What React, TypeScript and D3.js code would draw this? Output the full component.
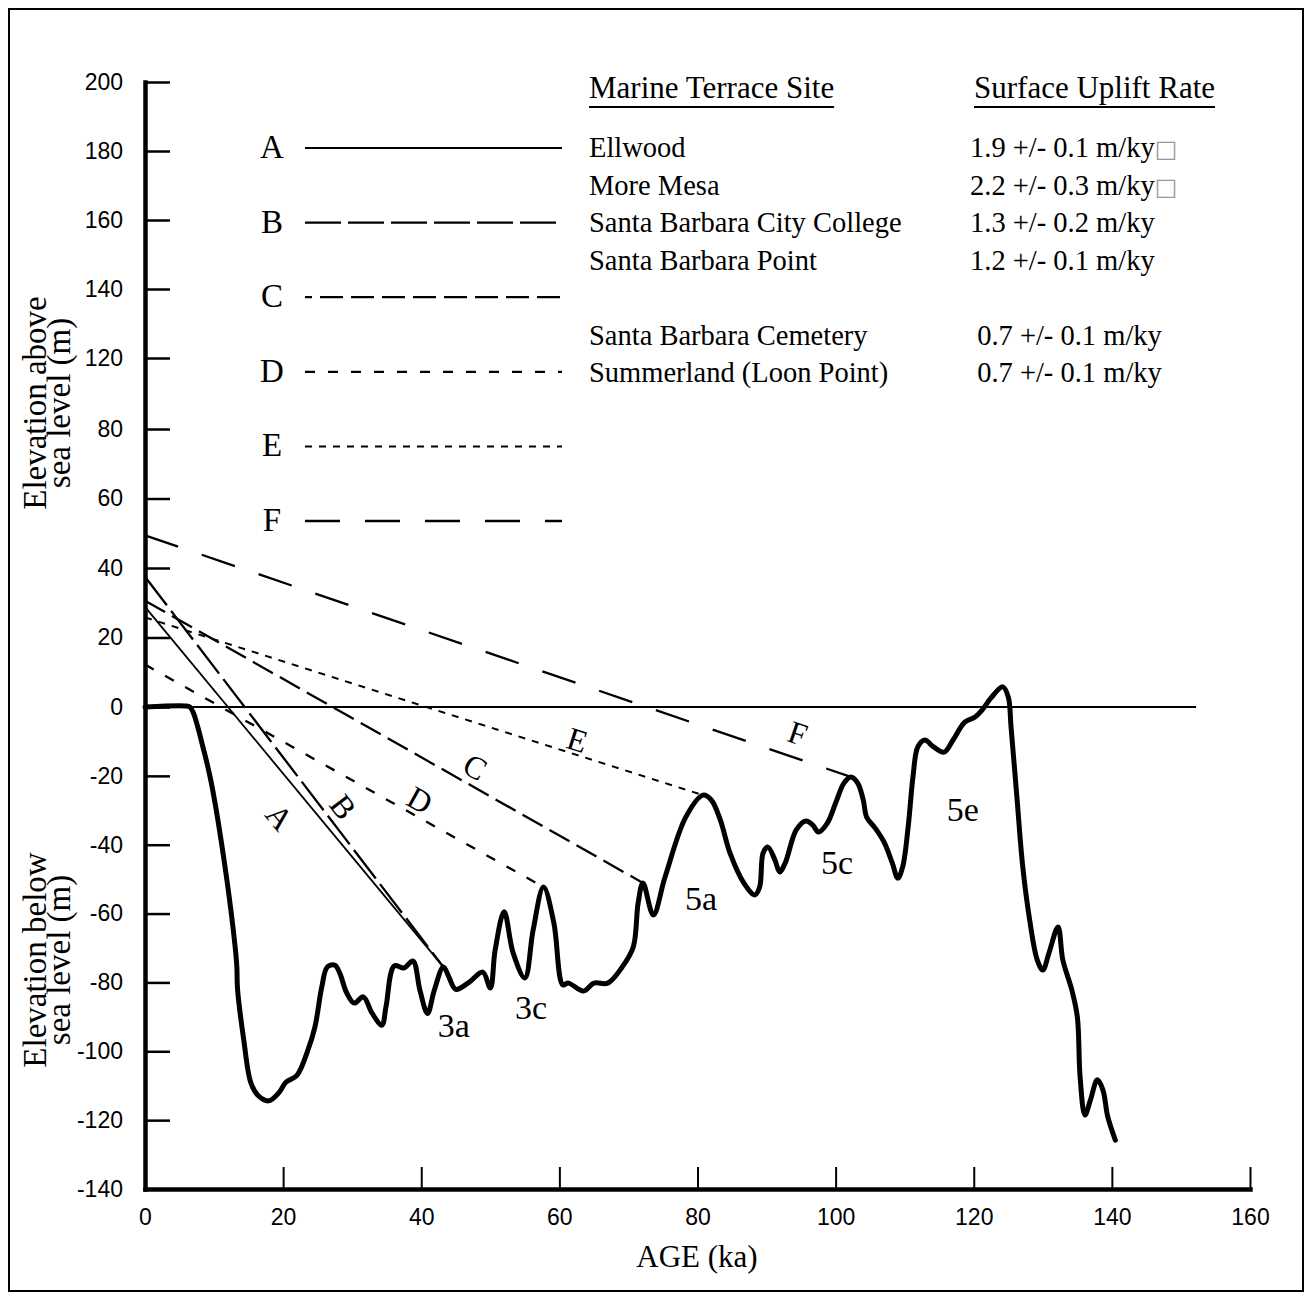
import React, { useEffect, useRef } from 'react';
import * as d3 from 'd3';

// Sea-level curve: age (ka) and elevation (m)
const ageKa = [
  0, 5.8, 6.5, 7.0, 8.5, 9.6, 11.7, 13.1, 13.3, 13.4, 14.3, 15.3, 16.3, 17.9, 19.4, 20.4, 22.0, 23.6, 24.6, 25.6,
  26.4, 27.5, 28.2, 29.2, 30.3, 31.6, 32.9, 34.3, 34.9, 36.1, 37.5, 38.8, 39.8, 40.9, 41.9, 43.2, 44.0, 45.0, 46.9, 48.9,
  50.0, 50.7, 52.0, 53.3, 55.0, 56.2, 57.7, 59.2, 60.5, 61.3, 63.5, 65.0, 67.0, 69.1, 70.7, 71.4, 72.1, 73.6, 75.3, 78.3,
  80.8, 82.0, 83.3, 84.7, 86.7, 88.3, 89.0, 89.5, 90.2, 91.2, 91.9, 92.7, 94.3, 95.7, 96.7, 97.5, 98.8, 100.0, 101.2, 102.2,
  103.2, 104.0, 104.5, 105.7, 107.0, 108.2, 109.0, 109.7, 110.5, 111.2, 111.9, 112.9, 114.2, 115.7, 117.0, 118.7, 120.2, 121.2, 122.5, 124.2,
  125.0, 125.4, 126.2, 127.1, 128.1, 129.2, 130.0, 130.9, 132.2, 132.9, 134.2, 135.0, 135.4, 136.1, 136.9, 137.9, 138.7, 139.4, 140.5,
];
const seaLevelM = [
  0, 0.3, 0, -1.7, -12.5, -22, -48, -70.6, -75.5, -82, -96.7, -109, -112.7, -114.4, -112, -109, -107, -99.6, -93, -81.3,
  -75.5, -75, -77.3, -83, -86, -84.2, -89, -92.4, -87, -75.2, -75.8, -73.8, -82.2, -89, -82.2, -75.5, -78.4, -82, -80, -77,
  -81.6, -70.6, -59.5, -71.4, -78.7, -64.8, -52.3, -62.7, -80.7, -80.2, -82.5, -80.2, -80.2, -75.5, -69.7, -57, -51.1, -60.4, -49.4, -32,
  -25.6, -27, -32.8, -42.4, -51.1, -54.6, -52.3, -42.4, -40.7, -44.4, -47.9, -45.3, -35.7, -33.1, -34.3, -36.3, -33.7, -27.9, -22.1, -20.3,
  -22.1, -27, -32, -35.1, -39.2, -45.3, -49.7, -46.5, -34.9, -20.3, -11.6, -9.6, -11.6, -13.1, -9.6, -4.4, -2.9, -0.9, 2.6, 5.8,
  2.9, -5.8, -25, -46.5, -61.9, -73.5, -76.4, -71.4, -63.9, -73.5, -82.2, -90, -107.5, -118.5, -114.1, -108.3, -111.2, -119, -125.8,
];

// Terrace lines A-F: elevation at age 0 and where each meets the curve
const lineKeys = ['A', 'B', 'C', 'D', 'E', 'F'];
const lineStartElev = [28.8, 37.5, 30.6, 12.2, 25.8, 49.4];
const lineEndAge = [43.2, 43.2, 72.1, 57.7, 80.8, 102.2];
const lineEndElev = [-75.5, -75.5, -51.1, -52.3, -25.6, -20.3];
// where the letter sits next to each line
const lineLabelAge = [19.5, 28.7, 47.8, 39.8, 62.6, 94.5];
const lineLabelElev = [-32, -29, -17.4, -27, -9.6, -7.6];

// Isotope stage labels
const stageNames = ['3a', '3c', '5a', '5c', '5e'];
const stageAge = [44.7, 55.9, 80.5, 100.2, 118.4];
const stageElev = [-92.4, -87.4, -55.5, -45.3, -29.9];

// Legend table
const siteNames = [
  'Ellwood',
  'More Mesa',
  'Santa Barbara City College',
  'Santa Barbara Point',
  'Santa Barbara Cemetery',
  'Summerland (Loon Point)',
];
const upliftRates = [
  '1.9 +/- 0.1 m/ky',
  '2.2 +/- 0.3 m/ky',
  '1.3 +/- 0.2 m/ky',
  '1.2 +/- 0.1 m/ky',
  ' 0.7 +/- 0.1 m/ky',
  ' 0.7 +/- 0.1 m/ky',
];
const rateHasBox = [true, true, false, false, false, false];

// Axis ticks (the original labels skip 100)
const xTicks = [0, 20, 40, 60, 80, 100, 120, 140, 160];
const yTicks = [200, 180, 160, 140, 120, 80, 60, 40, 20, 0, -20, -40, -60, -80, -100, -120, -140];

const SERIF = '"Liberation Serif", "Times New Roman", serif';
const SANS = '"Liberation Sans", Arial, sans-serif';

const dashes: Record<string, { dash: string; width: number; offset: number }> = {
  A: { dash: 'none', width: 1.8, offset: 0 },
  B: { dash: '36,7', width: 2.3, offset: 0 },
  C: { dash: '23,8', width: 2.3, offset: 16 },
  D: { dash: '10,13', width: 2.3, offset: 0 },
  E: { dash: '7,7', width: 2, offset: 0 },
  F: { dash: '35,25', width: 2.3, offset: 0 },
};

export default function App() {
  const ref = useRef<SVGSVGElement>(null);

  useEffect(() => {
    const svg = d3.select(ref.current);
    svg.selectAll('*').remove();

    const x = d3.scaleLinear().domain([0, 160]).range([145, 1250]);
    // piecewise because the tick labels jump from 120 to 80
    const y = d3.scaleLinear().domain([-140, 0, 80, 120, 200]).range([1189, 707, 429, 358, 82]);

    // Outer frame
    svg.append('rect')
      .attr('x', 9).attr('y', 9)
      .attr('width', 1294).attr('height', 1282)
      .attr('fill', 'none').attr('stroke', '#000').attr('stroke-width', 2);

    // Present sea level
    svg.append('line')
      .attr('x1', x(0)).attr('x2', x(152.2))
      .attr('y1', y(0)).attr('y2', y(0))
      .attr('stroke', '#000').attr('stroke-width', 2);

    // Terrace lines
    lineKeys.forEach((k, i) => {
      const s = dashes[k];
      svg.append('line')
        .attr('x1', x(0)).attr('y1', y(lineStartElev[i]))
        .attr('x2', x(lineEndAge[i])).attr('y2', y(lineEndElev[i]))
        .attr('stroke', '#000').attr('stroke-width', s.width)
        .attr('stroke-dasharray', s.dash);

      const ang = Math.atan2(
        y(lineEndElev[i]) - y(lineStartElev[i]),
        x(lineEndAge[i]) - x(0)
      ) * 180 / Math.PI;
      svg.append('text')
        .attr('transform', `translate(${x(lineLabelAge[i])},${y(lineLabelElev[i])}) rotate(${ang})`)
        .attr('text-anchor', 'middle')
        .attr('dominant-baseline', 'central')
        .attr('font-family', SERIF).attr('font-size', 32)
        .text(k);
    });

    // Sea-level curve
    const line = d3.line<number>()
      .x((d, i) => x(ageKa[i]))
      .y(d => y(d))
      .curve(d3.curveCatmullRom.alpha(0.5));
    svg.append('path')
      .datum(seaLevelM)
      .attr('d', line)
      .attr('fill', 'none').attr('stroke', '#000')
      .attr('stroke-width', 5).attr('stroke-linejoin', 'round').attr('stroke-linecap', 'round');

    // Stage labels
    stageNames.forEach((s, i) => {
      svg.append('text')
        .attr('x', x(stageAge[i])).attr('y', y(stageElev[i]))
        .attr('text-anchor', 'middle').attr('dominant-baseline', 'central')
        .attr('font-family', SERIF).attr('font-size', 34)
        .text(s);
    });

    // Axes (plain hyphen for negatives, as in the original)
    const gy = svg.append('g')
      .attr('transform', `translate(${x(0)},0)`)
      .call(d3.axisLeft(y).tickValues(yTicks).tickSize(-25).tickSizeOuter(0).tickPadding(22).tickFormat(d => String(d)));
    gy.attr('font-family', SANS).attr('font-size', 23);
    gy.select('.domain').attr('stroke-width', 4.5).attr('stroke-linecap', 'square');
    gy.selectAll('.tick line').attr('stroke-width', 2.5);

    const gx = svg.append('g')
      .attr('transform', `translate(0,${y(-140)})`)
      .call(d3.axisBottom(x).tickValues(xTicks).tickSize(-22).tickSizeOuter(0).tickPadding(20).tickFormat(d => String(d)));
    gx.attr('font-family', SANS).attr('font-size', 23);
    gx.select('.domain').attr('stroke-width', 4.5).attr('stroke-linecap', 'square');
    gx.selectAll('.tick line').attr('stroke-width', 2);

    // Axis titles
    svg.append('text')
      .attr('x', 697).attr('y', 1267)
      .attr('text-anchor', 'middle')
      .attr('font-family', SERIF).attr('font-size', 31)
      .text('AGE (ka)');

    const yTitle = (lines: string[], cy: number, size: number) => {
      lines.forEach((t, i) => {
        svg.append('text')
          .attr('transform', `translate(${46 + i * 24},${cy}) rotate(-90)`)
          .attr('text-anchor', 'middle')
          .attr('font-family', SERIF).attr('font-size', size)
          .text(t);
      });
    };
    yTitle(['Elevation above', 'sea level (m)'], 403, 33);
    yTitle(['Elevation below', 'sea level (m)'], 960, 33);

    // Legend: line styles
    lineKeys.forEach((k, i) => {
      const ly = 148 + i * 74.6;
      const s = dashes[k];
      svg.append('text')
        .attr('x', 272).attr('y', ly + 10)
        .attr('text-anchor', 'middle')
        .attr('font-family', SERIF).attr('font-size', 33)
        .text(k);
      svg.append('line')
        .attr('x1', 305).attr('x2', 562)
        .attr('y1', ly).attr('y2', ly)
        .attr('stroke', '#000').attr('stroke-width', s.width)
        .attr('stroke-dasharray', s.dash)
        .attr('stroke-dashoffset', s.offset);
    });

    // Legend: table headers with underline
    [['Marine Terrace Site', 589], ['Surface Uplift Rate', 974]].forEach(([t, hx]) => {
      const txt = svg.append('text')
        .attr('x', hx as number).attr('y', 98)
        .attr('font-family', SERIF).attr('font-size', 31)
        .text(t as string);
      const w = (txt.node() as SVGTextElement).getComputedTextLength();
      svg.append('line')
        .attr('x1', hx as number).attr('x2', (hx as number) + w)
        .attr('y1', 107).attr('y2', 107)
        .attr('stroke', '#000').attr('stroke-width', 2);
    });

    // Legend: rows
    siteNames.forEach((name, i) => {
      const ry = 157 + i * 37.5 + (i >= 4 ? 37.5 : 0);
      svg.append('text')
        .attr('x', 589).attr('y', ry)
        .attr('font-family', SERIF).attr('font-size', 28.5)
        .text(name);
      const r = svg.append('text')
        .attr('x', 970).attr('y', ry)
        .attr('font-family', SERIF).attr('font-size', 28.5)
        .style('white-space', 'pre');
      r.append('tspan').text(upliftRates[i]);
      if (rateHasBox[i]) {
        r.append('tspan').attr('fill', '#999').attr('font-size', 24).attr('font-family', '"DejaVu Sans", sans-serif').text('\u25A1');
      }
    });
  }, []);

  return (
    <svg
      ref={ref}
      width={1312}
      height={1300}
      style={{ position: 'absolute', left: 0, top: 0, background: '#fff' }}
    />
  );
}
